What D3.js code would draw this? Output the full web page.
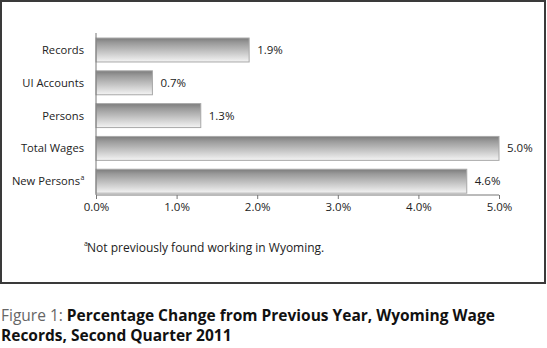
<!DOCTYPE html>
<html>
<head>
<meta charset="utf-8">
<script src="https://cdn.jsdelivr.net/npm/d3@7"></script>
<style>
  html, body { margin: 0; padding: 0; background: #fff; }
  svg { display: block; font-family: "Open Sans", "Noto Sans", sans-serif; }
</style>
</head>
<body>
<svg id="chart" width="547" height="348"></svg>
<script>
// Percentage change from previous year, Wyoming wage records, Q2 2011
const categories = ["Records", "UI Accounts", "Persons", "Total Wages", "New Persons"];
const values = [1.9, 0.7, 1.3, 5.0, 4.6];
const tickValues = [0, 1, 2, 3, 4, 5];
const tickLabels = ["0.0%", "1.0%", "2.0%", "3.0%", "4.0%", "5.0%"];
const footnote = "Not previously found working in Wyoming.";
const captionLead = "Figure 1:";
const captionLines = ["Percentage Change from Previous Year, Wyoming Wage", "Records, Second Quarter 2011"];

const svg = d3.select("#chart");

// panel frame
svg.append("rect")
  .attr("x", 1).attr("y", 1).attr("width", 544).attr("height", 282)
  .attr("fill", "#fff").attr("stroke", "#3a3a3a").attr("stroke-width", 2);

// bar gradient: darker top edge fading to near white
const defs = svg.append("defs");
const grad = defs.append("linearGradient")
  .attr("id", "barGrad").attr("x1", 0).attr("y1", 0).attr("x2", 0).attr("y2", 1);
grad.append("stop").attr("offset", "0%").attr("stop-color", "#7c7c7c");
grad.append("stop").attr("offset", "20%").attr("stop-color", "#9a9a9a");
grad.append("stop").attr("offset", "100%").attr("stop-color", "#f4f4f4");

const x = d3.scaleLinear().domain([0, 5]).range([96, 499]);
const y = d3.scaleBand().domain(categories).range([35.4, 195.8])
  .paddingInner(0.27).paddingOuter(0.08);
const axisY = 195;

const data = categories.map((c, i) => ({ cat: c, value: values[i] }));

// bars
svg.append("g").selectAll("rect")
  .data(data).join("rect")
  .attr("x", x(0))
  .attr("y", d => y(d.cat))
  .attr("width", d => x(d.value) - x(0))
  .attr("height", y.bandwidth())
  .attr("fill", "url(#barGrad)")
  .attr("stroke", "#a8a8a8")
  .attr("stroke-width", 1);

// value labels
svg.append("g").selectAll("text")
  .data(data).join("text")
  .attr("x", d => x(d.value) + 8)
  .attr("y", d => y(d.cat) + y.bandwidth() / 2 + 4)
  .attr("font-size", 11.5)
  .attr("fill", "#222")
  .text(d => d.value.toFixed(1) + "%");

// category labels
svg.append("g").selectAll("text")
  .data(data).join("text")
  .attr("x", d => d.cat === "New Persons" ? 80 : 84)
  .attr("y", d => y(d.cat) + y.bandwidth() / 2 + 4)
  .attr("text-anchor", "end")
  .attr("font-size", 11.2)
  .attr("fill", "#222")
  .text(d => d.cat);

// superscript marker on "New Persons"
svg.append("text")
  .attr("x", 80.5)
  .attr("y", y("New Persons") + y.bandwidth() / 2 - 1)
  .attr("font-size", 7)
  .attr("fill", "#222")
  .text("a");

// vertical axis line
svg.append("line")
  .attr("x1", x(0)).attr("x2", x(0))
  .attr("y1", 33).attr("y2", axisY)
  .attr("stroke", "#777").attr("stroke-width", 1);

// horizontal axis
const xAxis = d3.axisBottom(x)
  .tickValues(tickValues)
  .tickSize(4)
  .tickPadding(4)
  .tickFormat((d, i) => tickLabels[i]);

const gx = svg.append("g")
  .attr("transform", `translate(0,${axisY})`)
  .call(xAxis);
gx.select(".domain").attr("stroke", "#777").attr("d", `M${x(0)},0H${x(5)}`);
gx.selectAll(".tick line").attr("stroke", "#777");
gx.selectAll(".tick text")
  .attr("font-family", "\"Open Sans\", \"Noto Sans\", sans-serif")
  .attr("font-size", 11.5).attr("fill", "#222");

// footnote
svg.append("text")
  .attr("x", 84).attr("y", 246)
  .attr("font-size", 7).attr("fill", "#222")
  .text("a");
svg.append("text")
  .attr("x", 87).attr("y", 252)
  .attr("font-size", 12).attr("fill", "#222")
  .text(footnote);

// caption
const lead = svg.append("text")
  .attr("x", 1).attr("y", 321)
  .attr("font-size", 15.5)
  .attr("fill", "#666")
  .text(captionLead);
const leadW = lead.node().getComputedTextLength();
svg.append("text")
  .attr("x", 1 + leadW + 4).attr("y", 321)
  .attr("font-size", 15.5)
  .attr("fill", "#111").attr("font-weight", "bold")
  .text(captionLines[0]);
svg.append("text")
  .attr("x", 1).attr("y", 341)
  .attr("font-size", 15.5)
  .attr("fill", "#111").attr("font-weight", "bold")
  .text(captionLines[1]);
</script>
</body>
</html>
